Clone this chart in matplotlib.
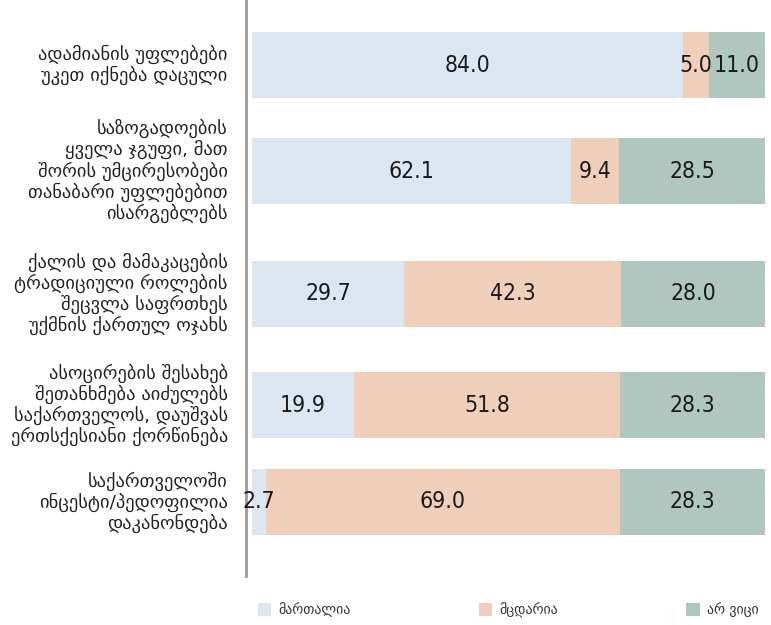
import matplotlib.pyplot as plt
from matplotlib.patches import Patch

# Данные опроса (проценты)
categories = [
    "ადამიანის უფლებები\nუკეთ იქნება დაცული",
    "საზოგადოების\nყველა ჯგუფი, მათ\nშორის უმცირესობები\nთანაბარი უფლებებით\nისარგებლებს",
    "ქალის და მამაკაცების\nტრადიციული როლების\nშეცვლა საფრთხეს\nუქმნის ქართულ ოჯახს",
    "ასოცირების შესახებ\nშეთანხმება აიძულებს\nსაქართველოს, დაუშვას\nერთსქესიანი ქორწინება",
    "საქართველოში\nინცესტი/პედოფილია\nდაკანონდება",
]
series_names = ["მართალია", "მცდარია", "არ ვიცი"]
true_vals = [84.0, 62.1, 29.7, 19.9, 2.7]
false_vals = [5.0, 9.4, 42.3, 51.8, 69.0]
dont_know_vals = [11.0, 28.5, 28.0, 28.3, 28.3]

colors = ["#dce6f1", "#f0cfba", "#afc7be"]

# Вертикальные позиции строк (в пикселях сверху) и высота полос
row_pos = [65, 171, 294, 405, 502]
bar_h = 66

W, H = 771, 625
fig = plt.figure(figsize=(W / 100, H / 100), dpi=100)
ax = fig.add_axes([246 / W, 1 - 576 / H, (765 - 246) / W, 576 / H])

left = [0.0] * len(categories)
for vals, col in zip([true_vals, false_vals, dont_know_vals], colors):
    ax.barh(row_pos, vals, left=left, height=bar_h, color=col, edgecolor="none")
    for y, l, v in zip(row_pos, left, vals):
        ax.text(l + v / 2, y, f"{v:.1f}", ha="center", va="center",
                fontsize=16.5, color="#1a1a1a", family="DejaVu Sans",
                fontstretch="condensed")
    left = [l + v for l, v in zip(left, vals)]

ax.set_xlim(-6 * 100 / 513, 100)
ax.set_ylim(576, 0)

# Подписи категорий слева
for y, cat in zip(row_pos, categories):
    ax.text(-0.035, y, cat, transform=ax.get_yaxis_transform(),
            ha="right", va="center", multialignment="right",
            fontsize=13.3, color="#222222", family="DejaVu Sans", linespacing=1.12)

for s in ["top", "right", "bottom"]:
    ax.spines[s].set_visible(False)
ax.spines["left"].set_color("#9a9a9a")
ax.spines["left"].set_linewidth(2)
ax.set_xticks([])
ax.set_yticks([])

# Легенда снизу
handles = [Patch(facecolor=c, edgecolor="none") for c in colors]
fig.legend(handles, series_names, loc="center", ncol=3, mode="expand",
           bbox_to_anchor=(252 / W, 1 - 620 / H, (764 - 252) / W, 20 / H),
           frameon=False, fontsize=10, handlelength=1.0, handleheight=1.0,
           handletextpad=0.5, borderaxespad=0, labelcolor="#333333")

fig.savefig("out.png", dpi=100)
